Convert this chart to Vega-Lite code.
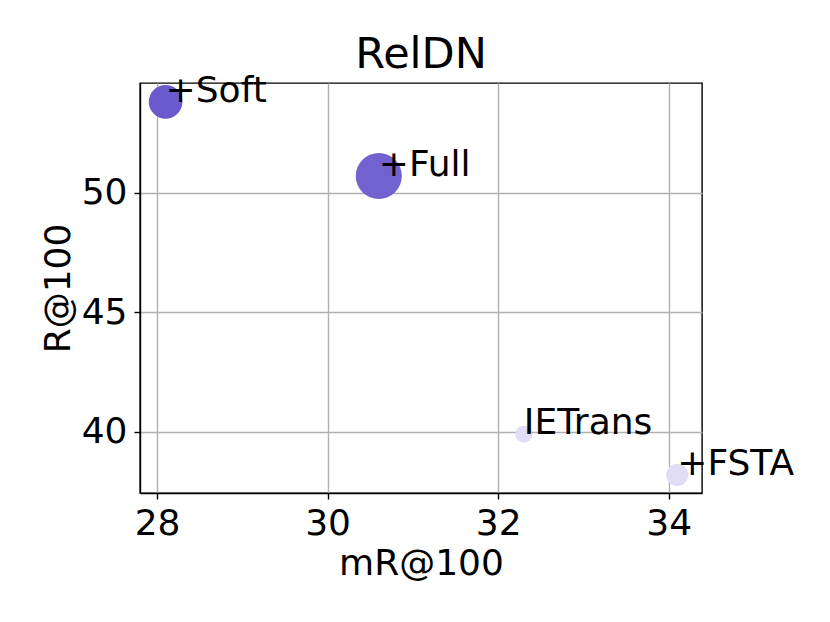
{
  "$schema": "https://vega.github.io/schema/vega-lite/v6.json",
  "width": 562,
  "height": 410,
  "autosize": {"type": "none"},
  "padding": {"left": 140, "top": 83, "right": 128, "bottom": 129},
  "background": "white",
  "title": {"text": "RelDN", "font": "DejaVu Sans", "fontSize": 43, "fontWeight": "normal", "color": "black", "baseline": "alphabetic", "offset": 15, "dy": 53},
  "config": {
    "view": {"stroke": "black", "strokeWidth": 1.4},
    "axis": {
      "domainColor": "black", "domainWidth": 1.4,
      "gridColor": "#b0b0b0", "gridWidth": 1.4, "gridOpacity": 1,
      "tickColor": "black", "tickWidth": 1.4, "tickSize": 6,
      "labelFont": "DejaVu Sans", "labelFontSize": 36, "labelColor": "black", "labelPadding": 7,
      "titleFont": "DejaVu Sans", "titleFontSize": 36, "titleFontWeight": "normal", "titleColor": "black",
      "zindex": 1
    }
  },
  "data": {"values": [
    {"name": "Soft", "label": "+Soft", "mR": 28.1, "R": 53.8, "size": 1134},
    {"name": "Full", "label": "+Full", "mR": 30.6, "R": 50.7, "size": 2124},
    {"name": "IETrans", "label": "IETrans", "mR": 32.3, "R": 39.9, "size": 290},
    {"name": "FSTA", "label": "+FSTA", "mR": 34.1, "R": 38.2, "size": 491}
  ]},
  "encoding": {
    "x": {"field": "mR", "type": "quantitative", "title": "mR@100",
      "scale": {"domain": [27.8, 34.39], "nice": false, "zero": false},
      "axis": {"values": [28, 30, 32, 34], "labelFlush": false, "titleBaseline": "alphabetic", "titleY": 81}},
    "y": {"field": "R", "type": "quantitative", "title": "R@100",
      "scale": {"domain": [37.44, 54.59], "nice": false, "zero": false},
      "axis": {"values": [40, 45, 50], "labelFlush": false, "titleBaseline": "alphabetic", "titleX": -71}}
  },
  "layer": [
    {
      "mark": {"type": "circle", "opacity": 1},
      "encoding": {
        "size": {"field": "size", "type": "quantitative", "scale": {"domain": [0, 2124], "range": [0, 2124]}, "legend": null},
        "color": {"field": "name", "type": "nominal", "legend": null,
          "scale": {"domain": ["Soft", "Full", "IETrans", "FSTA"], "range": ["#6a5acd", "#7262cf", "#e1ddf5", "#e1ddf5"]}}
      }
    },
    {
      "mark": {"type": "text", "align": "left", "baseline": "alphabetic", "dx": 0, "font": "DejaVu Sans", "fontSize": 36, "color": "black", "zindex": 2},
      "encoding": {"text": {"field": "label", "type": "nominal"}}
    }
  ]
}
